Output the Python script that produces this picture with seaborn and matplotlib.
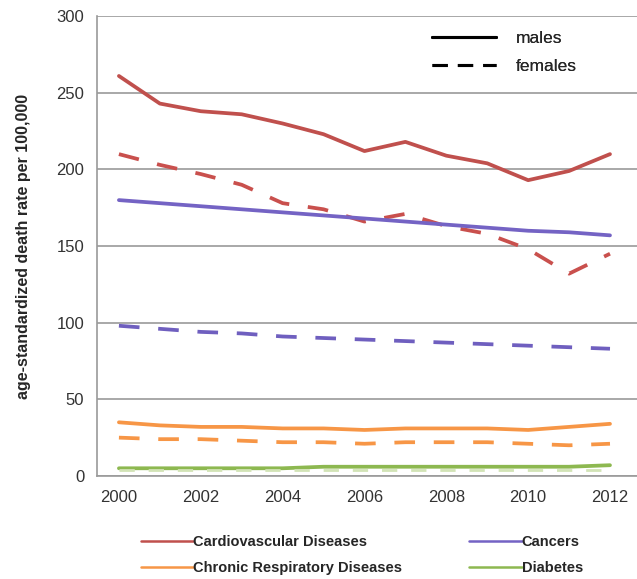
import numpy as np
import pandas as pd
import matplotlib
matplotlib.use("Agg")
import matplotlib.pyplot as plt
import seaborn as sns
from matplotlib.lines import Line2D

years = list(range(2000, 2013))
cvd_m = [261, 243, 238, 236, 230, 223, 212, 218, 209, 204, 193, 199, 210]
cvd_f = [210, 203, 197, 190, 178, 174, 166, 171, 163, 158, 148, 132, 145]
can_m = [180, 178, 176, 174, 172, 170, 168, 166, 164, 162, 160, 159, 157]
can_f = [98, 96, 94, 93, 91, 90, 89, 88, 87, 86, 85, 84, 83]
crd_m = [35, 33, 32, 32, 31, 31, 30, 31, 31, 31, 30, 32, 34]
crd_f = [25, 24, 24, 23, 22, 22, 21, 22, 22, 22, 21, 20, 21]
dia_m = [5, 5, 5, 5, 5, 6, 6, 6, 6, 6, 6, 6, 7]
dia_f = [4, 4, 4, 4, 4, 4, 4, 4, 4, 4, 4, 4, 4]

diseases = ["Cardiovascular Diseases", "Cancers", "Chronic Respiratory Diseases", "Diabetes"]
colors = {"Cardiovascular Diseases": "#C0504D", "Cancers": "#7463C4",
          "Chronic Respiratory Diseases": "#F79646", "Diabetes": "#8DB850"}
female_colors = {"Cardiovascular Diseases": "#C9504D", "Cancers": "#6F5FBF",
                 "Chronic Respiratory Diseases": "#F79646", "Diabetes": "#D2E3B6"}

rows = []
for d, m, f in [(diseases[0], cvd_m, cvd_f), (diseases[1], can_m, can_f),
                (diseases[2], crd_m, crd_f), (diseases[3], dia_m, dia_f)]:
    for y, v in zip(years, m):
        rows.append((d, "males", y, v))
    for y, v in zip(years, f):
        rows.append((d, "females", y, v))
df = pd.DataFrame(rows, columns=["disease", "sex", "year", "rate"])

sns.set_style("white")
plt.rcParams['font.family'] = ['Liberation Sans', 'DejaVu Sans']

fig = plt.figure(figsize=(6.37, 5.79), dpi=100)
ax = fig.add_axes([0.152, 0.178, 0.848, 0.794])

for d in diseases:
    sub = df[(df.disease == d) & (df.sex == "males")]
    sns.lineplot(data=sub, x="year", y="rate", color=colors[d], lw=2.7, ax=ax, zorder=3)
for d in diseases:
    sub = df[(df.disease == d) & (df.sex == "females")]
    sns.lineplot(data=sub, x="year", y="rate", color=female_colors[d],
                 lw=2.0 if d == "Diabetes" else 2.7,
                 ax=ax, zorder=4 if d == "Diabetes" else 2)
    ax.lines[-1].set_linestyle((0, (5.5, 5.0)))

ax.set_xlim(1999.46, 2012.66)
ax.set_ylim(0, 300)
ax.set_xticks(range(2000, 2013, 2))
ax.set_yticks(range(0, 301, 50))
ax.yaxis.grid(True, color="#9a9a9a", lw=1.2)
ax.xaxis.grid(False)
for s in ["top", "right"]:
    ax.spines[s].set_visible(False)
for s in ["left", "bottom"]:
    ax.spines[s].set_color("#9a9a9a")
    ax.spines[s].set_linewidth(1.2)
ax.tick_params(axis="both", labelsize=12, length=0, labelcolor="#333333")
ax.tick_params(axis="y", pad=9)
ax.tick_params(axis="x", pad=10)
ax.set_xlabel("")
ax.set_ylabel("age-standardized death rate per 100,000", fontsize=11.5, fontweight="bold", labelpad=18)

sex_handles = [Line2D([], [], color="black", lw=2.2),
               Line2D([], [], color="black", lw=2.2, linestyle=(0, (5, 3.3)))]
leg1 = ax.legend(sex_handles, ["males", "females"], loc="center left",
                 bbox_to_anchor=(0.607, 0.921), frameon=False, fontsize=12.5,
                 handlelength=3.7, labelspacing=0.7, handletextpad=1.15,
                 borderaxespad=0)
ax.add_artist(leg1)

order = ["Cardiovascular Diseases", "Chronic Respiratory Diseases", "Cancers", "Diabetes"]
dis_handles = [Line2D([], [], color=colors[d], lw=1.8) for d in order]
fig.legend(dis_handles, order, loc="center left", bbox_to_anchor=(0.2, 0.041),
           ncol=2, frameon=False, prop={"size": 10.5, "weight": "bold"},
           handlelength=3.6, handletextpad=0.0, columnspacing=4.6, labelspacing=0.8)

fig.savefig("out.png", dpi=100)
